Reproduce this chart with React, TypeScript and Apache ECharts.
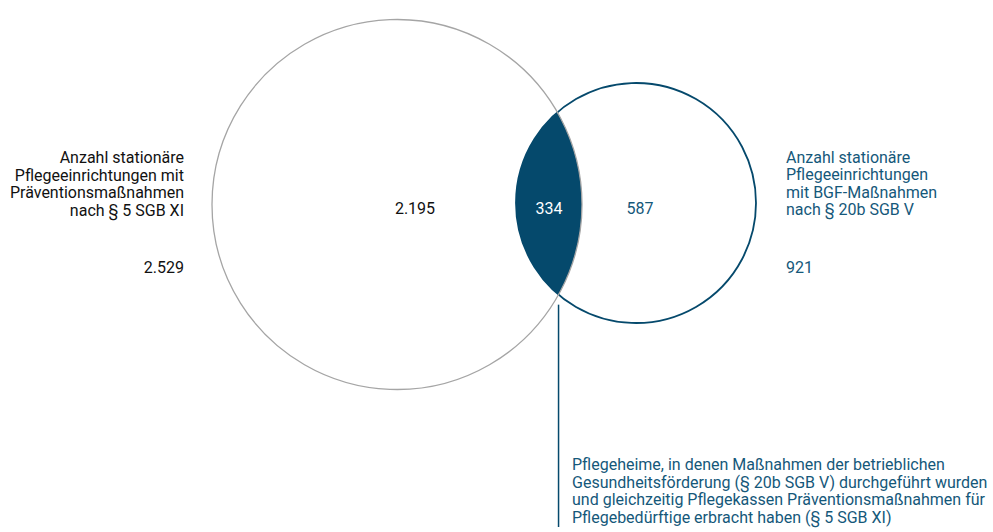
import React, { useEffect, useRef } from "react";
import * as echarts from "echarts";

// ---- data ----
const setLabels = [
  "Anzahl stationäre\nPflegeeinrichtungen mit\nPräventionsmaßnahmen\nnach § 5 SGB XI",
  "Anzahl stationäre\nPflegeeinrichtungen\nmit BGF-Maßnahmen\nnach § 20b SGB V",
];
const setTotals = [2529, 921];
// left only, overlap, right only
const regionValues = [2195, 334, 587];
const overlapNote =
  "Pflegeheime, in denen Maßnahmen der betrieblichen\nGesundheitsförderung (§ 20b SGB V) durchgeführt wurden\nund gleichzeitig Pflegekassen Präventionsmaßnahmen für\nPflegebedürftige erbracht haben (§ 5 SGB XI)";

// ---- layout (axis units) ----
const circleCx = [397, 636];
const circleCy = [204.5, 203];
const circleR = [185, 120];

const BLUE = "#05496c";
const BLUE_TEXT = "#15587a";
const GRAY = "#a5a5a5";
const DARK = "#111111";
const FONT = "Roboto, 'Noto Sans', sans-serif";
const FS = 16;

const fmt = (n: number) => String(n).replace(/\B(?=(\d{3})+(?!\d))/g, ".");

export default function App() {
  const ref = useRef<HTMLDivElement>(null);
  useEffect(() => {
    document.body.style.margin = "0";
    const chart = echarts.init(ref.current!, null, { renderer: "svg" });
    const option: any = {
      animation: false,
      backgroundColor: "#ffffff",
      grid: { left: 0, right: 0, top: 0, bottom: 0 },
      xAxis: { type: "value", min: 0, max: 993, show: false },
      yAxis: { type: "value", min: 0, max: 532, inverse: true, show: false },
      series: [
        {
          type: "custom",
          coordinateSystem: "cartesian2d",
          silent: true,
          data: [[0, 0]],
          renderItem: (params: any, api: any) => {
            const c1 = api.coord([circleCx[0], circleCy[0]]);
            const c2 = api.coord([circleCx[1], circleCy[1]]);
            const r1 = api.size([circleR[0], 0])[0];
            const r2 = api.size([circleR[1], 0])[0];
            const dx = c2[0] - c1[0];
            const dy = c2[1] - c1[1];
            const d = Math.sqrt(dx * dx + dy * dy);
            const a = (d * d + r1 * r1 - r2 * r2) / (2 * d);
            const h = Math.sqrt(Math.max(0, r1 * r1 - a * a));
            const mx = c1[0] + (a * dx) / d;
            const my = c1[1] + (a * dy) / d;
            const p1 = [mx + (h * dy) / d, my - (h * dx) / d];
            const p2 = [mx - (h * dy) / d, my + (h * dx) / d];
            const top = p1[1] < p2[1] ? p1 : p2;
            const bot = p1[1] < p2[1] ? p2 : p1;
            const lens =
              `M ${top[0]} ${top[1]} A ${r2} ${r2} 0 0 0 ${bot[0]} ${bot[1]} ` +
              `A ${r1} ${r1} 0 0 0 ${top[0]} ${top[1]} Z`;
            const labelY = api.coord([0, 208])[1];
            const lensMidX = (c2[0] - r2 + c1[0] + r1) / 2;
            const leaderEnd = api.coord([0, 527])[1];
            return {
              type: "group",
              children: [
                {
                  type: "circle",
                  shape: { cx: c2[0], cy: c2[1], r: r2 },
                  style: { fill: "none", stroke: BLUE, lineWidth: 1.8 },
                },
                { type: "path", shape: { pathData: lens }, style: { fill: BLUE } },
                {
                  type: "circle",
                  shape: { cx: c1[0], cy: c1[1], r: r1 },
                  style: { fill: "none", stroke: GRAY, lineWidth: 1.3 },
                },
                {
                  type: "line",
                  shape: { x1: bot[0], y1: bot[1] + 10, x2: bot[0], y2: leaderEnd },
                  style: { stroke: BLUE, lineWidth: 1.5 },
                },
                {
                  type: "text",
                  style: {
                    x: c1[0] + 18, y: labelY, text: fmt(regionValues[0]),
                    fill: DARK, font: `${FS}px ${FONT}`, align: "center", verticalAlign: "middle",
                  },
                },
                {
                  type: "text",
                  style: {
                    x: lensMidX, y: labelY, text: fmt(regionValues[1]),
                    fill: "#ffffff", font: `${FS}px ${FONT}`, align: "center", verticalAlign: "middle",
                  },
                },
                {
                  type: "text",
                  style: {
                    x: c2[0] + 4, y: labelY, text: fmt(regionValues[2]),
                    fill: BLUE_TEXT, font: `${FS}px ${FONT}`, align: "center", verticalAlign: "middle",
                  },
                },
              ],
            };
          },
        },
      ],
      graphic: [
        {
          type: "text", x: 184, y: 184,
          style: {
            text: setLabels[0], fill: DARK, font: `${FS}px ${FONT}`, lineHeight: 17.5,
            align: "right", verticalAlign: "middle",
          },
        },
        {
          type: "text", x: 184, y: 267,
          style: {
            text: fmt(setTotals[0]), fill: DARK, font: `${FS}px ${FONT}`,
            align: "right", verticalAlign: "middle",
          },
        },
        {
          type: "text", x: 786, y: 183.5,
          style: {
            text: setLabels[1], fill: BLUE_TEXT, font: `${FS}px ${FONT}`, lineHeight: 17.5,
            align: "left", verticalAlign: "middle",
          },
        },
        {
          type: "text", x: 786, y: 267,
          style: {
            text: fmt(setTotals[1]), fill: BLUE_TEXT, font: `${FS}px ${FONT}`,
            align: "left", verticalAlign: "middle",
          },
        },
        {
          type: "text", x: 572, y: 491,
          style: {
            text: overlapNote, fill: BLUE_TEXT, font: `${FS}px ${FONT}`, lineHeight: 17.5,
            align: "left", verticalAlign: "middle",
          },
        },
      ],
    };
    chart.setOption(option);
    return () => chart.dispose();
  }, []);
  return <div ref={ref} style={{ width: 993, height: 532 }} />;
}
